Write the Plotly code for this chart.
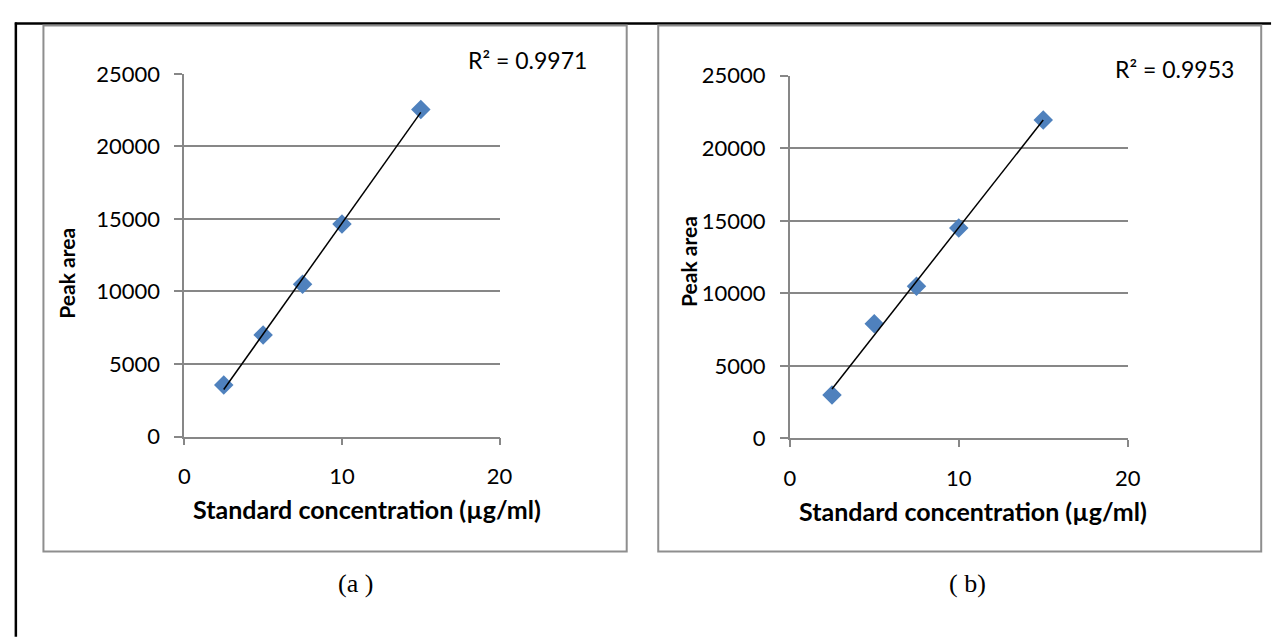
import numpy as np
import plotly.graph_objects as go

# ---- data ----
conc = [2.5, 5, 7.5, 10, 15]
area_a = [3550, 7000, 10500, 14650, 22550]
area_b = [3000, 7900, 10500, 14500, 21950]
r2_a = "R² = 0.9971"
r2_b = "R² = 0.9953"
x_ticks = [0, 10, 20]
y_ticks = [0, 5000, 10000, 15000, 20000, 25000]
x_title = "Standard concentration (µg/ml)"
y_title = "Peak area"
captions = ["(a )", "( b)"]

W, H = 1288, 644
def px(x):
    return x / W
def py(y):
    return 1 - y / H

GRAY = "#878787"
BLUE = "#4F81BD"
FONT = "Lato"
TS = 22

fig = go.Figure()

for i, (vals, xa, ya) in enumerate([(area_a, "x", "y"), (area_b, "x2", "y2")]):
    fig.add_trace(go.Scatter(x=conc, y=vals, mode="markers", xaxis=xa, yaxis=ya,
                             marker=dict(symbol="diamond", size=15, color=BLUE,
                                         line=dict(width=0)),
                             showlegend=False, hoverinfo="skip"))
    slope, icpt = np.polyfit(conc, vals, 1)
    xs = [min(conc), max(conc)]
    fig.add_trace(go.Scatter(x=xs, y=[slope * v + icpt for v in xs], mode="lines",
                             xaxis=xa, yaxis=ya,
                             line=dict(color="black", width=1.5),
                             showlegend=False, hoverinfo="skip"))

xcommon = dict(range=[0, 20], tickvals=x_ticks, showgrid=False, zeroline=False,
               showline=True, linecolor=GRAY, linewidth=1.8,
               ticks="outside", ticklen=7, tickwidth=1.8, tickcolor=GRAY,
               ticklabelstandoff=12,
               tickfont=dict(family=FONT, size=TS, color="black"), fixedrange=True)
ycommon = dict(range=[0, 25000], tickvals=y_ticks, tickformat="d",
               showgrid=True, gridcolor=GRAY,
               gridwidth=1.8, zeroline=False,
               showline=True, linecolor=GRAY, linewidth=1.8,
               ticks="outside", ticklen=8, tickwidth=1.8, tickcolor=GRAY,
               ticklabelstandoff=10,
               tickfont=dict(family=FONT, size=TS, color="black"), fixedrange=True)

fig.update_layout(
    width=W, height=H,
    margin=dict(l=0, r=0, t=0, b=0),
    paper_bgcolor="white", plot_bgcolor="white",
    xaxis=dict(domain=[px(181), px(501)], anchor="y", **xcommon),
    yaxis=dict(domain=[py(441), py(62.5)], anchor="x", **ycommon),
    xaxis2=dict(domain=[px(795.5), px(1138.5)], anchor="y2", **xcommon),
    yaxis2=dict(domain=[py(443), py(64.5)], anchor="x2", **ycommon),
)

shapes = [
    # outer black frame (left and top edges)
    dict(type="line", xref="paper", yref="paper", x0=px(10), x1=px(10), y0=py(9), y1=py(650),
         line=dict(color="black", width=2.5)),
    dict(type="line", xref="paper", yref="paper", x0=px(9), x1=px(1284), y0=py(10), y1=py(10),
         line=dict(color="black", width=2.5)),
    # chart boxes
    dict(type="rect", xref="paper", yref="paper", x0=px(38), x1=px(630), y0=py(561), y1=py(12),
         line=dict(color="#8E8E8E", width=2)),
    dict(type="rect", xref="paper", yref="paper", x0=px(662), x1=px(1274), y0=py(561), y1=py(12),
         line=dict(color="#8E8E8E", width=2)),
]
fig.update_layout(shapes=shapes)

ann = []
def text(x, y, s, size=TS, bold=False, family=FONT, angle=0):
    ann.append(dict(xref="paper", yref="paper", x=px(x), y=py(y), text=("<b>%s</b>" % s) if bold else s,
                    showarrow=False, xanchor="center", yanchor="middle", textangle=angle,
                    font=dict(family=family, size=size, color="black")))

text(529, 48, r2_a, size=23)
text(1186, 57, r2_b, size=23)
text(366, 517, x_title, size=25, bold=True)
text(981, 519, x_title, size=25, bold=True)
text(62, 271, y_title, size=21, bold=True, angle=-90)
text(692, 258, y_title, size=21, bold=True, angle=-90)
text(355, 594, captions[0], size=26, family="Liberation Serif")
text(976, 594, captions[1], size=26, family="Liberation Serif")
fig.update_layout(annotations=ann)

fig.write_html("out.html")
